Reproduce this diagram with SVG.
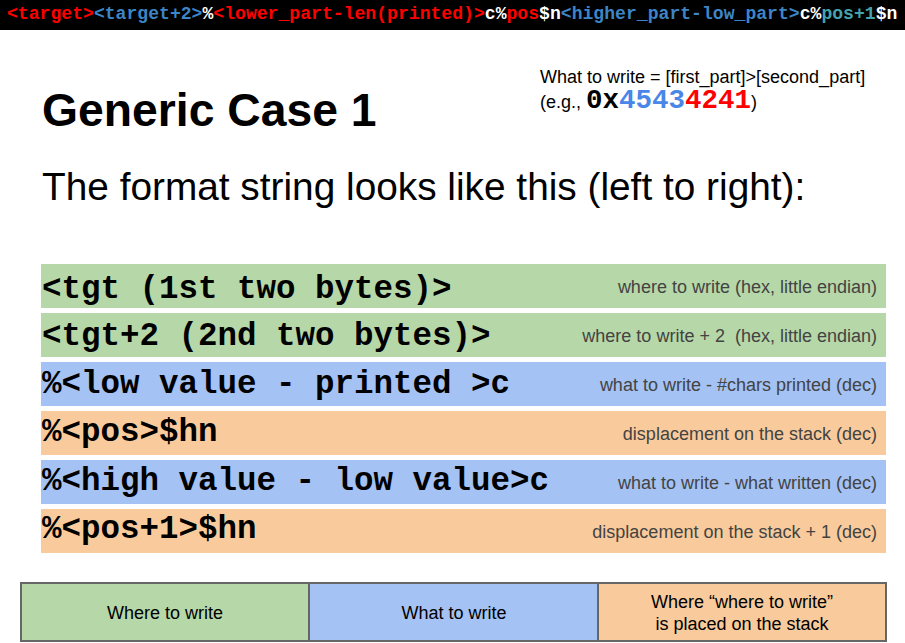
<svg xmlns="http://www.w3.org/2000/svg" width="905" height="643" viewBox="0 0 905 643">
  <style>
    .mono { font-family: "Liberation Mono", "Courier New", monospace; font-weight: bold; }
    .sans { font-family: "Liberation Sans", Arial, sans-serif; }
    .red { fill: #ff0000; }
    .blu { fill: #3d85c6; }
    .wht { fill: #ffffff; }
    .teal { fill: #45a3ad; }
    .green { fill: #b6d7a8; }
    .blue { fill: #a4c2f4; }
    .orange { fill: #f9cb9c; }
    .code { font-family: "Liberation Mono", "Courier New", monospace; font-weight: bold; font-size: 32.5px; fill: #000; }
    .note { font-family: "Liberation Sans", Arial, sans-serif; font-size: 18px; fill: #434343; text-anchor: end; }
    .cell { stroke: #666666; stroke-width: 2; }
    .legend { font-family: "Liberation Sans", Arial, sans-serif; font-size: 18px; fill: #000; text-anchor: middle; }
  </style>

  <!-- format string banner -->
  <g id="banner">
    <rect x="0" y="0" width="905" height="30" fill="#000"/>
    <text class="mono" x="7" y="19" font-size="18.1"><tspan class="red">&lt;target&gt;</tspan><tspan class="blu">&lt;target+2&gt;</tspan><tspan class="wht">%</tspan><tspan class="red">&lt;lower_part-len(printed)&gt;</tspan><tspan class="wht">c%</tspan><tspan class="red">pos</tspan><tspan class="wht">$n</tspan><tspan class="blu">&lt;higher_part-low_part&gt;</tspan><tspan class="wht">c%</tspan><tspan class="teal">pos+1</tspan><tspan class="wht">$n</tspan></text>
  </g>

  <!-- headings -->
  <g id="title">
    <text class="sans" x="42" y="126" font-size="46.3" font-weight="bold" fill="#000">Generic Case 1</text>
    <text class="sans" x="42" y="200" font-size="38.8" fill="#000">The format string looks like this (left to right):</text>
  </g>

  <g id="what-to-write">
    <text class="sans" x="540" y="83" font-size="18" fill="#000">What to write = [first_part]&gt;[second_part]</text>
    <text x="540" y="108" fill="#000"><tspan class="sans" font-size="18">(e.g., </tspan><tspan class="mono" font-size="27.5" fill="#000">0x</tspan><tspan class="mono" font-size="27.5" fill="#4a86e8">4543</tspan><tspan class="mono" font-size="27.5" fill="#ff0000">4241</tspan><tspan class="sans" font-size="18">)</tspan></text>
  </g>

  <!-- format string pieces -->
  <g id="row-tgt">
    <rect class="green" x="41" y="264" width="845" height="44"/>
    <text class="code" x="42" y="298">&lt;tgt (1st two bytes)&gt;</text>
    <text class="note" x="877" y="293">where to write (hex, little endian)</text>
  </g>
  <g id="row-tgt2">
    <rect class="green" x="41" y="313" width="845" height="44"/>
    <text class="code" x="42" y="345">&lt;tgt+2 (2nd two bytes)&gt;</text>
    <text class="note" x="877" y="342" xml:space="preserve">where to write + 2  (hex, little endian)</text>
  </g>
  <g id="row-low">
    <rect class="blue" x="41" y="362" width="845" height="44"/>
    <text class="code" x="42" y="393">%&lt;low value - printed &gt;c</text>
    <text class="note" x="877" y="391">what to write - #chars printed (dec)</text>
  </g>
  <g id="row-pos">
    <rect class="orange" x="41" y="411" width="845" height="44"/>
    <text class="code" x="42" y="441">%&lt;pos&gt;$hn</text>
    <text class="note" x="877" y="440">displacement on the stack (dec)</text>
  </g>
  <g id="row-high">
    <rect class="blue" x="41" y="460" width="845" height="44"/>
    <text class="code" x="42" y="490">%&lt;high value - low value&gt;c</text>
    <text class="note" x="877" y="489">what to write - what written (dec)</text>
  </g>
  <g id="row-pos1">
    <rect class="orange" x="41" y="509" width="845" height="44"/>
    <text class="code" x="42" y="538">%&lt;pos+1&gt;$hn</text>
    <text class="note" x="877" y="538">displacement on the stack + 1 (dec)</text>
  </g>

  <!-- colour legend -->
  <g id="legend-where">
    <rect class="green cell" x="21" y="583" width="288" height="58"/>
    <text class="legend" x="165" y="619">Where to write</text>
  </g>
  <g id="legend-what">
    <rect class="blue cell" x="309" y="583" width="289" height="58"/>
    <text class="legend" x="454" y="619">What to write</text>
  </g>
  <g id="legend-stack">
    <rect class="orange cell" x="598" y="583" width="288" height="58"/>
    <text class="legend" x="742" y="608">Where “where to write”</text>
    <text class="legend" x="742" y="630">is placed on the stack</text>
  </g>

  <g id="connectors"/>
</svg>
